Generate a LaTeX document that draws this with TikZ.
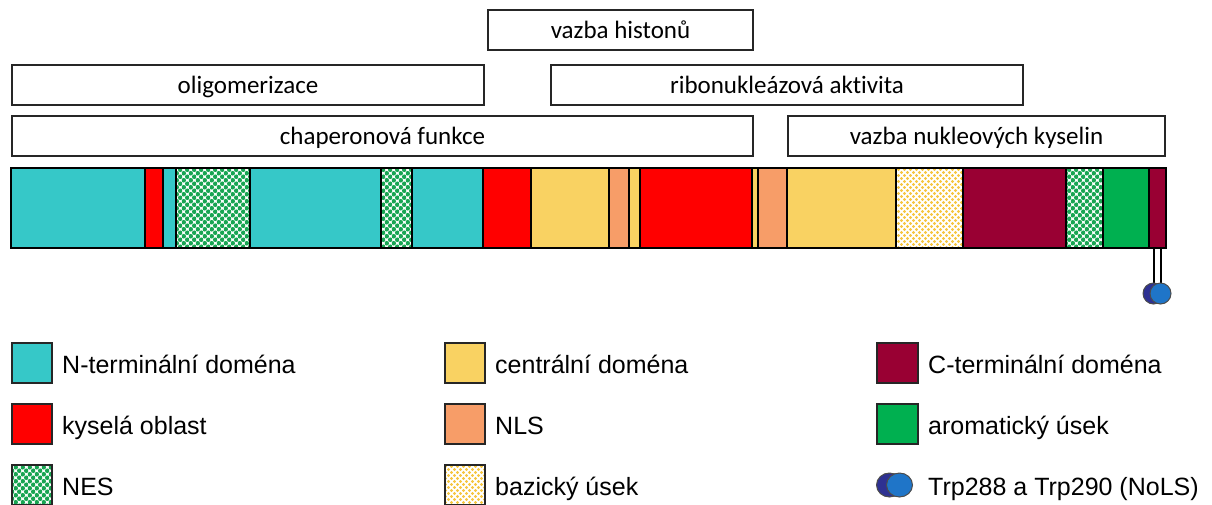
\documentclass[tikz,border=0pt]{standalone}
\usepackage{fontspec}
\setmainfont{Liberation Sans}
\newfontfamily\calib[Ligatures=NoCommon]{Carlito}
\usetikzlibrary{patterns.meta}
\definecolor{ncyan}{HTML}{36C8C8}
\definecolor{nred}{HTML}{FF0000}
\definecolor{nyel}{HTML}{F9D262}
\definecolor{norange}{HTML}{F79D68}
\definecolor{ndred}{HTML}{990033}
\definecolor{ngreen}{HTML}{00B050}
\definecolor{ndot}{HTML}{18A552}
\definecolor{nbas}{HTML}{F6C640}
\definecolor{nbasbg}{HTML}{FFFBEA}
\definecolor{ndblue}{HTML}{2E3192}
\definecolor{nlblue}{HTML}{1F75C8}
\tikzdeclarepattern{name=nesdots, type=uncolored,
  bottom left={(-.1pt,-.1pt)}, top right={(7.1pt,7.1pt)}, tile size={(7pt,7pt)},
  code={\fill (1.75pt,1.75pt) circle (2.3pt); \fill (5.25pt,5.25pt) circle (2.3pt);}}
\tikzdeclarepattern{name=basdots, type=uncolored,
  bottom left={(-.1pt,-.1pt)}, top right={(6.1pt,6.1pt)}, tile size={(6pt,6pt)},
  code={\fill (1.5pt,1.5pt) circle (1.6pt); \fill (4.5pt,4.5pt) circle (1.6pt);}}
\tikzset{
  lbox/.style={draw=black!85, line width=1.6pt, fill=white, inner sep=0pt, minimum height=40pt,
    font=\calib\fontsize{25}{30}\selectfont, text height=19pt, text depth=3pt},
  seg/.style={draw=black, line width=2.5pt},
  cyanseg/.style={seg, fill=ncyan},
  redseg/.style={seg, fill=nred},
  yelseg/.style={seg, fill=nyel},
  orseg/.style={seg, fill=norange},
  dredseg/.style={seg, fill=ndred},
  grseg/.style={seg, fill=ngreen},
  nesseg/.style={seg, fill=white, pattern={nesdots}, pattern color=ndot},
  basseg/.style={seg, fill=nbasbg, pattern={basdots}, pattern color=nbas},
  legsq/.style={draw=black!85, line width=1.5pt},
  legtxt/.style={anchor=base west, inner sep=0pt, font=\fontsize{25}{30}\selectfont},
}
\begin{document}
\begin{tikzpicture}[x=1pt,y=-1pt]
\useasboundingbox (0,0) rectangle (1212,504);
% function boxes
\node[lbox, minimum width=265pt] (hist) at (620.5,30) {vazba histonů};
\node[lbox, minimum width=472pt] (olig) at (248,85) {oligomerizace};
\node[lbox, minimum width=472pt] (ribo) at (787,85) {ribonukleázová aktivita};
\node[lbox, minimum width=741pt] (chap) at (382.5,136) {chaperonová funkce};
\node[lbox, minimum width=377pt] (nukl) at (976.5,136) {vazba nukleových kyselin};
% bar
\path[cyanseg] (11,168) rectangle (145,248);
\path[redseg] (145,168) rectangle (163,248);
\path[cyanseg] (163,168) rectangle (176,248);
\path[nesseg] (176,168) rectangle (250,248);
\path[cyanseg] (250,168) rectangle (381,248);
\path[nesseg] (381,168) rectangle (412,248);
\path[cyanseg] (412,168) rectangle (483,248);
\path[redseg] (483,168) rectangle (531,248);
\path[yelseg] (531,168) rectangle (609,248);
\path[orseg] (609,168) rectangle (629,248);
\path[yelseg] (629,168) rectangle (640,248);
\path[redseg] (640,168) rectangle (752,248);
\path[yelseg] (752,168) rectangle (758,248);
\path[orseg] (758,168) rectangle (787,248);
\path[yelseg] (787,168) rectangle (896,248);
\path[basseg] (896,168) rectangle (963,248);
\path[dredseg] (963,168) rectangle (1066,248);
\path[nesseg] (1066,168) rectangle (1103,248);
\path[grseg] (1103,168) rectangle (1149,248);
\path[dredseg] (1149,168) rectangle (1166,248);
% NoLS stalk
\coordinate (s1) at (1154,249);
\coordinate (s2) at (1161,249);
\coordinate (t1) at (1154,286);
\coordinate (t2) at (1161,286);
\draw[line width=2pt] (s1) -- (t1);
\draw[line width=2pt] (s2) -- (t2);
\draw[fill=ndblue, draw=black!70, line width=1pt] (1153.5,293.5) ellipse (10.5 and 10.5);
\draw[fill=nlblue, draw=black!70, line width=1pt] (1160.5,293.5) ellipse (10.5 and 10.5);
% legend
\path[legsq, fill=ncyan] (12,343) rectangle (52,383);
\path[legsq, fill=nred] (12,404) rectangle (52,444);
\path[legsq, fill=white, pattern={nesdots}, pattern color=ndot] (12,465) rectangle (52,505);
\node[legtxt] (l1) at (62,373) {N-terminální doména};
\node[legtxt] (l2) at (62,434) {kyselá oblast};
\node[legtxt] (l3) at (62,495) {NES};
\path[legsq, fill=nyel] (445,343) rectangle (485,383);
\path[legsq, fill=norange] (445,404) rectangle (485,444);
\path[legsq, fill=nbasbg, pattern={basdots}, pattern color=nbas] (445,465) rectangle (485,505);
\node[legtxt] (l4) at (495,373) {centrální doména};
\node[legtxt] (l5) at (495,434) {NLS};
\node[legtxt] (l6) at (495,495) {bazický úsek};
\path[legsq, fill=ndred] (877,343) rectangle (918,383);
\path[legsq, fill=ngreen] (877,404) rectangle (918,444);
\draw[fill=ndblue, draw=black!70, line width=1pt] (889.5,485) ellipse (13 and 12);
\draw[fill=nlblue, draw=black!70, line width=1pt] (899.5,485) ellipse (13 and 12);
\node[legtxt] (l7) at (928,373) {C-terminální doména};
\node[legtxt] (l8) at (928,434) {aromatický úsek};
\node[legtxt] (l9) at (928,495) {Trp288 a Trp290 (NoLS)};
\end{tikzpicture}
\end{document}
